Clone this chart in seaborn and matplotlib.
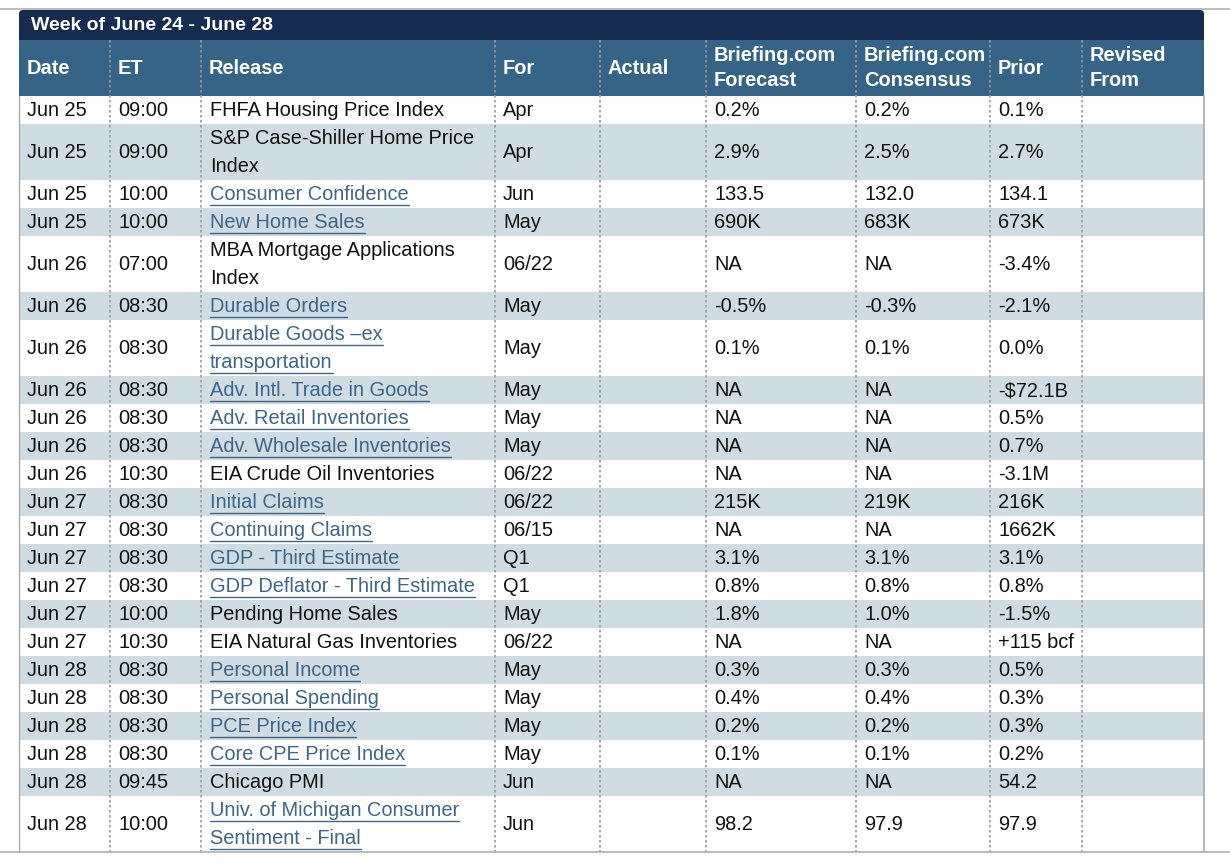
import matplotlib
matplotlib.use("Agg")
import matplotlib.pyplot as plt
import seaborn as sns
from matplotlib.patches import Rectangle, FancyBboxPatch

sns.set_theme(style="white")
plt.rcParams['font.family'] = ['Liberation Sans', 'DejaVu Sans']

title = "Week of June 24 - June 28"
headers = ["Date", "ET", "Release", "For", "Actual", "Briefing.com\nForecast",
           "Briefing.com\nConsensus", "Prior", "Revised\nFrom"]
dates = ["Jun 25"]*4 + ["Jun 26"]*7 + ["Jun 27"]*6 + ["Jun 28"]*6
times = ["09:00", "09:00", "10:00", "10:00", "07:00", "08:30", "08:30", "08:30", "08:30", "08:30",
         "10:30", "08:30", "08:30", "08:30", "08:30", "10:00", "10:30", "08:30", "08:30", "08:30",
         "08:30", "09:45", "10:00"]
releases = ["FHFA Housing Price Index", "S&P Case-Shiller Home Price\nIndex", "Consumer Confidence",
            "New Home Sales", "MBA Mortgage Applications\nIndex", "Durable Orders",
            "Durable Goods \u2013ex\ntransportation", "Adv. Intl. Trade in Goods", "Adv. Retail Inventories",
            "Adv. Wholesale Inventories", "EIA Crude Oil Inventories", "Initial Claims",
            "Continuing Claims", "GDP - Third Estimate", "GDP Deflator - Third Estimate",
            "Pending Home Sales", "EIA Natural Gas Inventories", "Personal Income",
            "Personal Spending", "PCE Price Index", "Core CPE Price Index", "Chicago PMI",
            "Univ. of Michigan Consumer\nSentiment - Final"]
is_link = [0, 0, 1, 1, 0, 1, 1, 1, 1, 1, 0, 1, 1, 1, 1, 0, 0, 1, 1, 1, 1, 0, 1]
for_period = ["Apr", "Apr", "Jun", "May", "06/22", "May", "May", "May", "May", "May", "06/22",
              "06/22", "06/15", "Q1", "Q1", "May", "06/22", "May", "May", "May", "May", "Jun", "Jun"]
actual = [""]*23
forecast = ["0.2%", "2.9%", "133.5", "690K", "NA", "-0.5%", "0.1%", "NA", "NA", "NA", "NA", "215K",
            "NA", "3.1%", "0.8%", "1.8%", "NA", "0.3%", "0.4%", "0.2%", "0.1%", "NA", "98.2"]
consensus = ["0.2%", "2.5%", "132.0", "683K", "NA", "-0.3%", "0.1%", "NA", "NA", "NA", "NA", "219K",
             "NA", "3.1%", "0.8%", "1.0%", "NA", "0.3%", "0.4%", "0.2%", "0.1%", "NA", "97.9"]
prior = ["0.1%", "2.7%", "134.1", "673K", "-3.4%", "-2.1%", "0.0%", "-$72.1B", "0.5%", "0.7%", "-3.1M",
         "216K", "1662K", "3.1%", "0.8%", "-1.5%", "+115 bcf", "0.5%", "0.3%", "0.3%", "0.2%", "54.2",
         "97.9"]
revised = [""]*23

W, H = 1230, 867
fig = plt.figure(figsize=(W/100, H/100), dpi=100)
ax = fig.add_axes([0, 0, 1, 1])
ax.set_xlim(0, W); ax.set_ylim(H, 0); ax.axis("off")

colx = [19, 110, 201, 495, 600, 706, 856, 990, 1082, 1204]
navy, hdr, shade, link = "#152b50", "#356487", "#cfdce4", "#3d6688"
fs = 14.4

ax.plot([0, W], [8.5, 8.5], color="#b0b0b0", lw=1.2)
ax.add_patch(FancyBboxPatch((19, 10), 1185, 40, boxstyle="round,pad=0,rounding_size=4",
                            fc=navy, ec="none"))
ax.add_patch(Rectangle((19, 40), 1185, 56, fc=hdr, ec="none"))
ax.text(31, 26, title, color="white", fontsize=14, fontweight="bold", va="center")
for i, h in enumerate(headers):
    ax.text(colx[i] + 8, 68, h, color="white", fontsize=fs, fontweight="bold", va="center",
            linespacing=1.45)

nlines = [r.count("\n") + 1 for r in releases]
y = 96
rows_y = []
for i in range(23):
    hgt = 28 * nlines[i]
    if i % 2 == 1:
        ax.add_patch(Rectangle((19, y), 1185, hgt, fc=shade, ec="none"))
    rows_y.append((y, hgt))
    y += hgt

texts_link = []
for i in range(23):
    y0, hgt = rows_y[i]
    yc = y0 + hgt / 2 + 1
    vals = [dates[i], times[i], releases[i], for_period[i], actual[i], forecast[i],
            consensus[i], prior[i], revised[i]]
    for j, v in enumerate(vals):
        if not v:
            continue
        if j == 2:
            lines = v.split("\n")
            for k, ln in enumerate(lines):
                ly = y0 + 14 + 28 * k + 1
                t = ax.text(colx[j] + 9, ly, ln, fontsize=fs, va="center",
                            color=link if is_link[i] else "#111111")
                if is_link[i]:
                    texts_link.append((t, ly + 10))
        else:
            ax.text(colx[j] + 8, yc, v, fontsize=fs, va="center", color="#111111")

bottom = y
for x in colx[1:-1]:
    ax.plot([x, x], [40, bottom], color="#999999", lw=1.2, ls=(0, (1.5, 1.5)))
ax.plot([colx[0], colx[0]], [96, bottom], color="#aaaaaa", lw=1)
ax.plot([colx[-1], colx[-1]], [96, bottom], color="#aaaaaa", lw=1.2)
ax.plot([0, W], [bottom, bottom], color="#b0b0b0", lw=1.2)

fig.canvas.draw()
r = fig.canvas.get_renderer()
inv = ax.transData.inverted()
for t, uy in texts_link:
    bb = t.get_window_extent(r)
    x0 = inv.transform((bb.x0, 0))[0]; x1 = inv.transform((bb.x1, 0))[0]
    ax.plot([x0, x1], [uy, uy], color=link, lw=1)

fig.savefig("out.png", dpi=100)
